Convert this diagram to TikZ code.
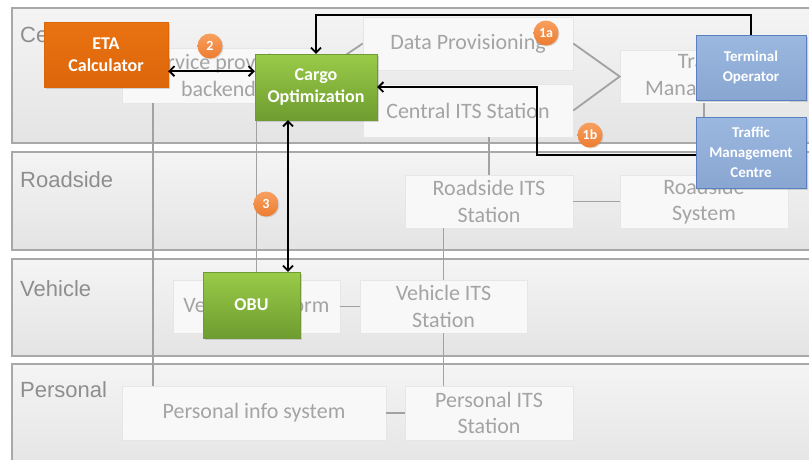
\documentclass[tikz,border=0pt]{standalone}
\usepackage{fontspec}
\setmainfont{Carlito}
\newfontfamily\lanefont{Liberation Sans}
\usetikzlibrary{arrows.meta,shadows,calc}

\definecolor{lanetop}{HTML}{F4F4F4}
\definecolor{lanebot}{HTML}{E4E4E4}
\definecolor{laneline}{HTML}{A8A8A8}
\definecolor{lanetext}{HTML}{8E8E8E}
\definecolor{compfill}{HTML}{F8F8F8}
\definecolor{compline}{HTML}{E6E6E6}
\definecolor{comptext}{HTML}{A4A4A4}
\definecolor{wire}{HTML}{A2A2A2}
\definecolor{etatop}{HTML}{EA7211}
\definecolor{etabot}{HTML}{DC660A}
\definecolor{greentop}{HTML}{9ACB48}
\definecolor{greenbot}{HTML}{6E9C30}
\definecolor{greenline}{HTML}{6F9A35}
\definecolor{bluetop}{HTML}{9BB8E0}
\definecolor{bluebot}{HTML}{89A6D2}
\definecolor{blueline}{HTML}{5B80BF}
\definecolor{badgetop}{HTML}{F8A060}
\definecolor{badgebot}{HTML}{EC7C30}

\tikzset{
  lane/.style={draw=laneline, line width=1.2pt, top color=lanetop, bottom color=lanebot},
  lanelabel/.style={anchor=west, text=lanetext, font=\lanefont\fontsize{22}{26}\selectfont, inner sep=0pt},
  comp/.style={draw=compline, line width=0.6pt, fill=compfill, text=comptext, align=center,
    font=\fontsize{22}{26.5}\selectfont, inner sep=0pt,
    drop shadow={opacity=0.18, shadow xshift=1.2pt, shadow yshift=-1.2pt}},
  wireline/.style={draw=wire, line width=1.8pt},
  actor/.style={align=center, text=white, inner sep=0pt,
    font=\bfseries\fontsize{18}{22}\selectfont,
    drop shadow={opacity=0.3, shadow xshift=1.5pt, shadow yshift=-1.5pt}},
  etabox/.style={actor, draw=etabot, top color=etatop, bottom color=etabot},
  greenbox/.style={actor, draw=greenline, top color=greentop, bottom color=greenbot},
  bluebox/.style={actor, draw=blueline, line width=1pt, top color=bluetop, bottom color=bluebot,
    font=\bfseries\fontsize{15}{20}\selectfont},
  badge/.style={circle, minimum size=25pt, inner sep=0pt, text=white,
    top color=badgetop, bottom color=badgebot,
    font=\bfseries\fontsize{14}{16}\selectfont,
    drop shadow={opacity=0.25, shadow xshift=1pt, shadow yshift=-1pt}},
  flow/.style={draw=black, line width=1.8pt, -{Straight Barb[length=5pt,width=10pt]}},
  biflow/.style={draw=black, line width=1.8pt,
    {Straight Barb[length=5pt,width=10pt]}-{Straight Barb[length=5pt,width=10pt]}}
}

\begin{document}
\begin{tikzpicture}[x=1pt, y=-1pt]
\useasboundingbox (0,0) rectangle (809,459);

% swim lanes
\path[lane] (12,8) rectangle (820,143);
\path[lane] (12,152) rectangle (820,250);
\path[lane] (12,259) rectangle (820,356);
\path[lane] (12,364) rectangle (820,475);
\node[lanelabel] (lcentral) at (20,35) {Central};
\node[lanelabel] (lroad) at (20,180) {Roadside};
\node[lanelabel] (lveh) at (20,289) {Vehicle};
\node[lanelabel] (lpers) at (20,390) {Personal};

% architecture components
\node[comp, minimum width=193pt, minimum height=55pt] (svc) at (218.5,75.5) {Service provider\\backend};
\node[comp, minimum width=210pt, minimum height=53pt] (dprov) at (468,43.5) {Data Provisioning};
\node[comp, minimum width=210pt, minimum height=53pt] (cits) at (468,110.5) {Central ITS Station};
\node[comp, minimum width=170pt, minimum height=53pt] (tmsys) at (705,76.5) {Traffic\\Management};
\node[comp, minimum width=168pt, minimum height=53pt] (rits) at (489,201.5) {Roadside ITS\\Station};
\node[comp, minimum width=168pt, minimum height=53pt] (rsys) at (704,201.5) {Roadside\\System};
\node[comp, minimum width=167pt, minimum height=53pt] (vplat) at (256.5,306.5) {Vehicle platform};
\node[comp, minimum width=167pt, minimum height=53pt] (vits) at (443.5,306.5) {Vehicle ITS\\Station};
\node[comp, minimum width=264pt, minimum height=54pt] (pinfo) at (254,413) {Personal info system};
\node[comp, minimum width=168pt, minimum height=54pt] (pits) at (489,413) {Personal ITS\\Station};

% links between components
\coordinate (svcleg) at ($(svc.south west)+(31,0)$);
\draw[wireline] (svcleg) -- (svcleg |- pinfo.north);
\draw[wireline] (vplat.north) -- (vplat.north |- svc.south);
\draw[wireline] (rits.north) -- (rits.north |- cits.south);
\draw[wireline] (vits.north) -- (vits.north |- rits.south);
\draw[wireline] (vits.south) -- (vits.south |- pits.north);
\draw[wireline] (rsys.north) -- (rsys.north |- tmsys.south);
\draw[wireline] (rits.east) -- (rsys.west);
\draw[wireline] (vplat.east) -- (vits.west);
\draw[wireline] (pinfo.east) -- (pits.west);
\draw[wireline] (dprov.east) -- (tmsys.west) -- (cits.east);
\draw[wireline] (dprov.west) -- (svc.east) -- (cits.west);

% actors
\node[etabox, minimum width=124pt, minimum height=65pt] (eta) at (106,54.5) {ETA\\Calculator};
\node[greenbox, minimum width=122pt, minimum height=66pt] (cargo) at (316,87) {Cargo\\Optimization};
\node[greenbox, minimum width=97pt, minimum height=66pt] (obu) at (251.5,305) {OBU};
\node[bluebox, minimum width=110pt, minimum height=65pt] (term) at (751,67.5) {Terminal\\Operator};
\node[bluebox, minimum width=110pt, minimum height=71pt] (tmc) at (751,152.5) {Traffic\\Management\\Centre};

% information flows
\coordinate (topy) at (0,15);
\coordinate (bendx) at (537,0);
\draw[biflow] ([yshift=16pt]eta.south east) -- ([yshift=16pt]eta.south east -| cargo.west);
\draw[flow] (term.north) |- (topy -| cargo.north) -- (cargo.north);
\draw[flow] ([yshift=-2.5pt]tmc.west) -| (bendx |- cargo.east) -- (cargo.east);
\draw[biflow] ([xshift=-28pt]cargo.south) -- ([xshift=-28pt]cargo.south |- obu.north);

% step numbers
\node[badge] (b2) at (210,46) {2};
\node[badge] (b1a) at (546,33) {1a};
\node[badge] (b1b) at (590,135) {1b};
\node[badge] (b3) at (266,204) {3};
\end{tikzpicture}
\end{document}
